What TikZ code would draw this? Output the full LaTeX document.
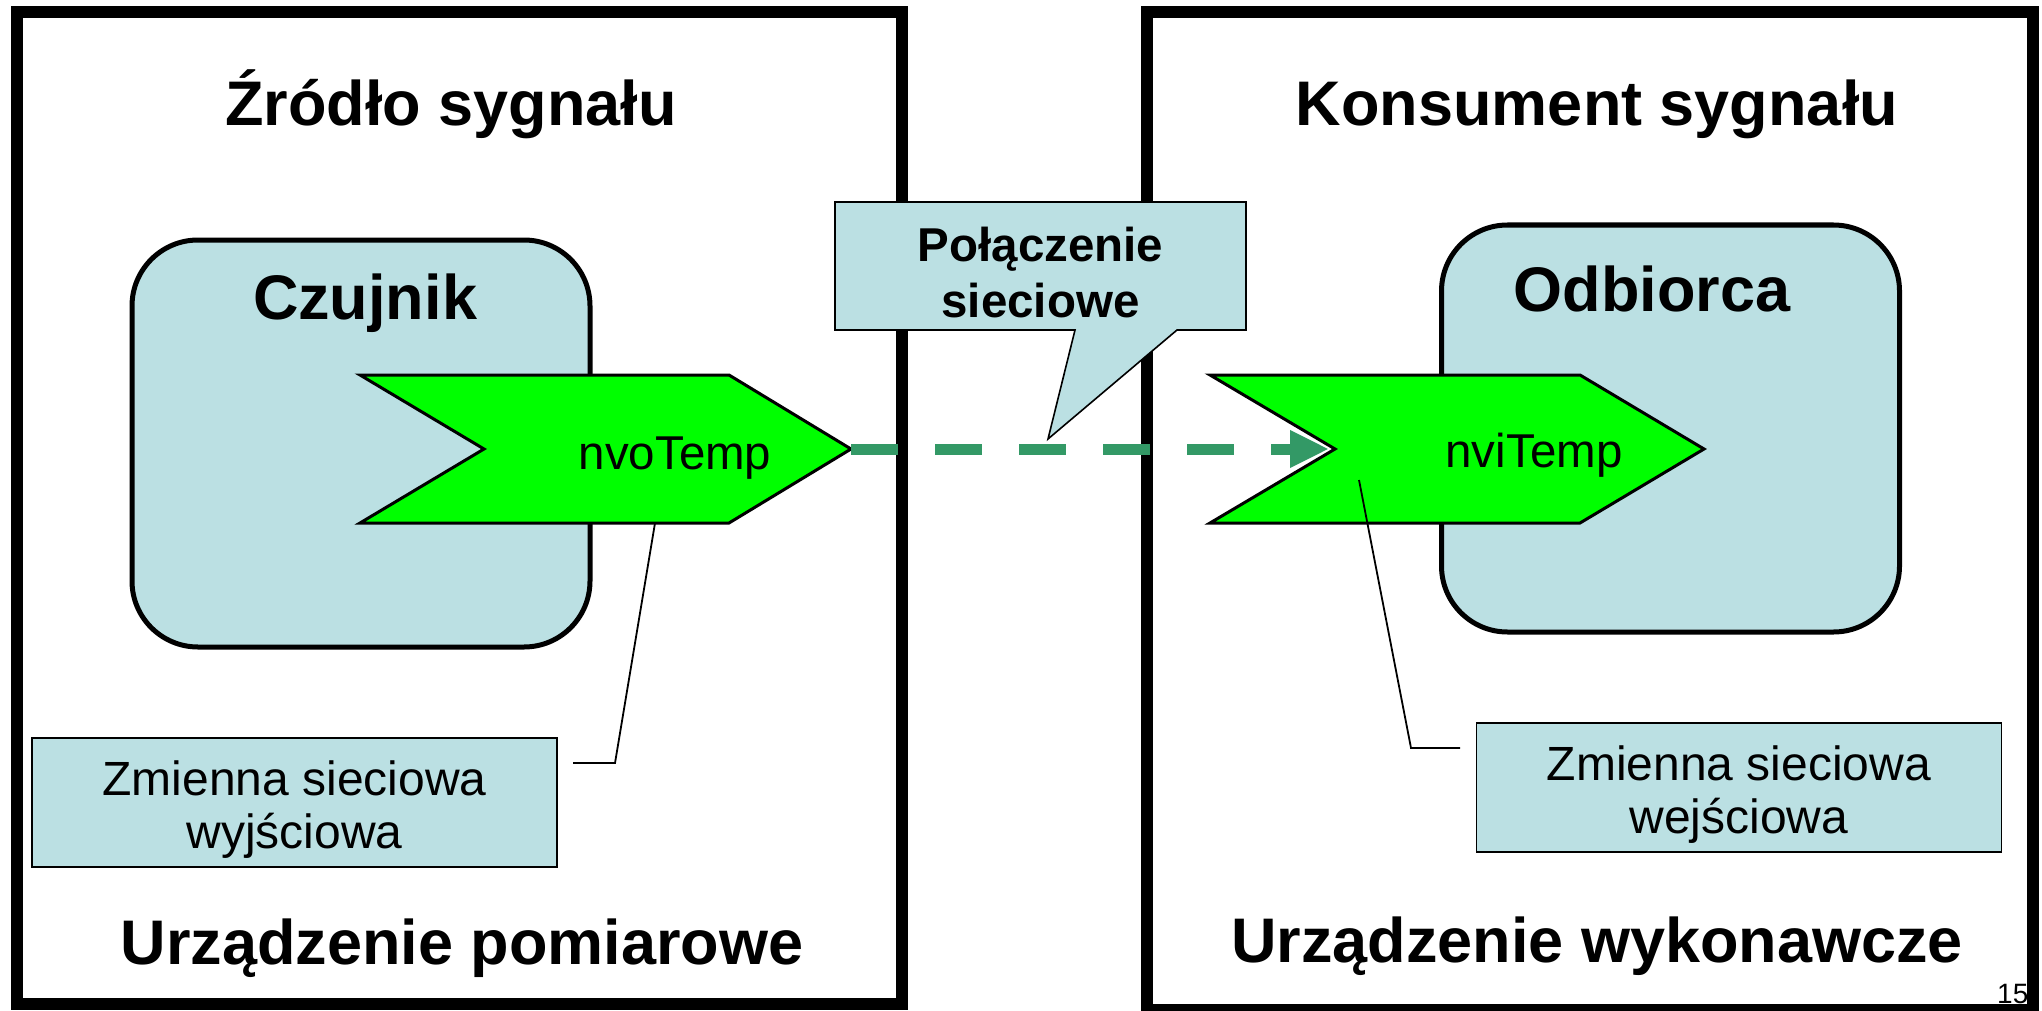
\documentclass[tikz,border=0pt]{standalone}
\usepackage{fontspec}
\setmainfont{Liberation Sans}
\usetikzlibrary{arrows.meta}
\definecolor{paleblue}{RGB}{187,224,227}
\definecolor{linkgreen}{RGB}{51,153,102}
\definecolor{vargreen}{RGB}{0,255,0}
\begin{document}
\begin{tikzpicture}[x=1pt,y=-1pt,
  frame/.style={draw=black,line width=12pt,line join=miter},
  device/.style={draw=black,line width=5pt,fill=paleblue,rounded corners=66pt,
    minimum width=458pt,minimum height=407pt,inner sep=0pt},
  chevron/.style={draw=black,line width=3pt,fill=vargreen,line join=miter},
  note/.style={draw=black,line width=1.6pt,fill=paleblue,inner sep=0pt,
    minimum width=525pt,minimum height=129pt},
  notetext/.style={anchor=base,inner sep=0pt,align=center,
    font=\fontsize{48}{53}\selectfont},
  headline/.style={anchor=base,inner sep=0pt,font=\fontsize{63}{70}\selectfont\bfseries},
  varname/.style={anchor=base,inner sep=0pt,font=\fontsize{47.5}{55}\selectfont},
  leader/.style={draw=black,line width=1.8pt},
  link/.style={draw=linkgreen,line width=11pt,dash pattern=on 47pt off 37pt,
    -{Triangle[length=39pt,width=35pt]},shorten >=6pt},
  callout/.style={draw=black,line width=1.6pt,fill=paleblue,line join=miter}]

\useasboundingbox (0,0) rectangle (2042,1011);

% slide number, partly hidden by the right frame
\node[anchor=base west,inner sep=0pt,font=\fontsize{28}{32}\selectfont] (pageno) at (1997,1003) {15};

% device frames
\draw[frame] (17,12.5) rectangle (901.5,1004);
\draw[frame] (1147,12.5) rectangle (2033,1010);

% functional blocks
\node[device] (czujnik) at (361,443.5) {};
\node[device] (odbiorca) at (1670.5,428.5) {};

% headings
\node[headline] (srcTitle) at (451,126) {Źródło sygnału};
\node[headline] (dstTitle) at (1597,126) {Konsument sygnału};
\node[headline] (srcDev) at (462,964) {Urządzenie pomiarowe};
\node[headline] (dstDev) at (1597,962) {Urządzenie wykonawcze};
\node[headline] (czujnikName) at (365,319) {Czujnik};
\node[headline] (odbiorcaName) at (1652,311) {Odbiorca};

% network variables
\coordinate (nvoTip) at (851,449);
\coordinate (nviNotch) at (1335,449);
\draw[chevron] (360,375) -- (729,375) -- (nvoTip) -- (729,523) -- (360,523) -- (484,449) -- cycle;
\draw[chevron] (1210,375) -- (1580,375) -- (1704,449) -- (1580,523) -- (1210,523) -- (nviNotch) -- cycle;
\node[varname] (nvo) at (675,469) {nvoTemp};
\node[varname] (nvi) at (1534,467) {nviTemp};

% explanatory notes with leader lines
\node[note] (outNote) at (294.5,802.5) {};
\node[notetext] (outNoteText) at (294.5,848) {Zmienna sieciowa\\wyjściowa};
\node[note] (inNote) at (1739,787.5) {};
\node[notetext] (inNoteText) at (1739,833) {Zmienna sieciowa\\wejściowa};
\coordinate (outA) at (573,763);
\coordinate (outB) at (615,763);
\coordinate (outC) at (655,523);
\coordinate (inA) at (1460,748);
\coordinate (inB) at (1411,748);
\coordinate (inC) at (1359,480);
\draw[leader] (outA) -- (outB) -- (outC);
\draw[leader] (inA) -- (inB) -- (inC);

% network binding
\draw[link] (nvoTip) -- (nviNotch);

% callout
\coordinate (calloutTip) at (1048,439);
\draw[callout] (835,202) -- (1246,202) -- (1246,330) -- (1177,330) -- (calloutTip)
  -- (1075,330) -- (835,330) -- cycle;
\node[anchor=base,inner sep=0pt,align=center,font=\fontsize{47.5}{56}\selectfont\bfseries]
  (callout) at (1040.5,317) {Połączenie\\sieciowe};
\end{tikzpicture}
\end{document}
